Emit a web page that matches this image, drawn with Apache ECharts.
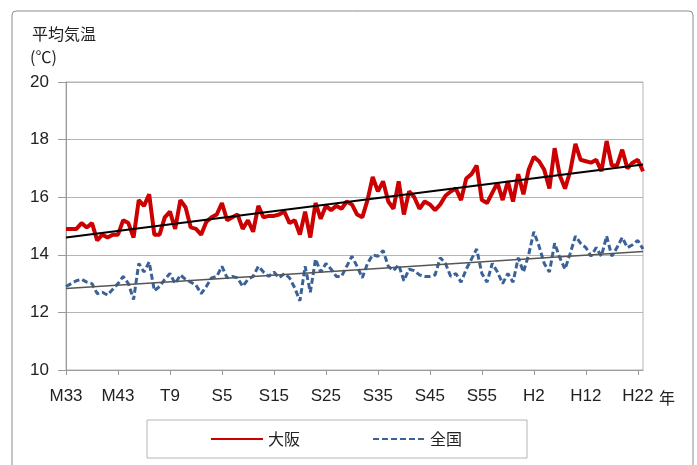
<!DOCTYPE html>
<html><head><meta charset="utf-8">
<script src="https://cdn.jsdelivr.net/npm/echarts@6/dist/echarts.min.js"></script>
<style>html,body{margin:0;padding:0;background:#fff}#c{width:697px;height:465px}</style>
</head><body><div id="c"></div>
<script>
const startYear = 1900;
const osaka = [14.9,14.9,14.9,15.1,14.95,15.1,14.5,14.7,14.6,14.7,
14.7,15.2,15.1,14.6,15.9,15.7,16.1,14.7,14.7,15.3,
15.5,14.9,15.9,15.65,14.95,14.9,14.7,15.15,15.3,15.4,
15.8,15.2,15.3,15.4,14.9,15.2,14.8,15.7,15.3,15.35,
15.35,15.4,15.5,15.1,15.2,14.7,15.5,14.6,15.8,15.25,
15.7,15.55,15.7,15.6,15.85,15.75,15.4,15.3,15.9,16.7,
16.2,16.55,15.85,15.6,16.55,15.4,16.2,16.0,15.6,15.85,
15.75,15.55,15.75,16.05,16.2,16.3,15.9,16.65,16.8,17.1,
15.9,15.8,16.15,16.5,15.9,16.55,15.85,16.8,16.1,16.95,
17.4,17.25,16.95,16.3,17.7,16.75,16.3,16.9,17.85,17.3,
17.25,17.2,17.3,16.9,17.95,17.1,17.1,17.65,17.0,17.2,
17.3,16.9];
const zenkoku = [12.9,13.0,13.1,13.15,13.05,13.0,12.65,12.7,12.6,12.8,
13.0,13.25,13.0,12.45,13.7,13.4,13.75,12.75,12.9,13.15,
13.35,13.0,13.3,13.15,13.05,12.95,12.65,12.9,13.2,13.25,
13.6,13.2,13.25,13.2,12.9,13.15,13.25,13.6,13.4,13.25,
13.4,13.2,13.35,13.2,12.85,12.4,13.6,12.7,13.85,13.4,
13.7,13.5,13.25,13.25,13.6,13.95,13.6,13.2,13.7,14.0,
13.95,14.15,13.6,13.45,13.65,13.1,13.5,13.45,13.3,13.25,
13.25,13.3,13.9,13.7,13.25,13.35,13.05,13.5,13.85,14.2,
13.35,13.05,13.7,13.4,13.0,13.35,13.05,13.9,13.4,14.0,
14.8,14.3,13.7,13.4,14.4,13.9,13.5,14.05,14.65,14.4,
14.25,13.95,14.25,13.95,14.65,13.95,14.25,14.6,14.25,14.35,
14.5,14.2];
const tickYears = [1900,1910,1920,1930,1940,1950,1960,1970,1980,1990,2000,2010];
const tickLabels = ['M33','M43','T9','S5','S15','S25','S35','S45','S55','H2','H12','H22'];
const seriesNames = ['大阪','全国'];

const years = osaka.map((_, i) => startYear + i);
const pairs = arr => arr.map((v, i) => [years[i], v]);
function trend(arr) {
  const n = arr.length;
  let sx=0, sy=0, sxx=0, sxy=0;
  arr.forEach((v,i)=>{const x=years[i]; sx+=x; sy+=v; sxx+=x*x; sxy+=x*v;});
  const b = (n*sxy - sx*sy)/(n*sxx - sx*sx);
  const a = (sy - b*sx)/n;
  const x0 = years[0], x1 = years[n-1];
  return [[x0, a+b*x0],[x1, a+b*x1]];
}
const labelMap = {};
tickYears.forEach((y,i)=>labelMap[y]=tickLabels[i]);

const font = '"Liberation Sans Narrow","Liberation Sans",sans-serif';
const jp = '"Noto Sans CJK JP",sans-serif';
const chart = echarts.init(document.getElementById('c'), null, {renderer:'canvas'});
chart.setOption({
  animation: false,
  backgroundColor: '#fff',
  grid: {left: 66, right: 54, top: 82, bottom: 95, show: true, borderColor: '#b4b4b4', borderWidth: 1},
  xAxis: {
    type: 'value', min: startYear, max: years[years.length-1], interval: 10,
    axisLine: {show: true, lineStyle: {color: '#9a9a9a', width: 1}},
    axisTick: {show: true, length: 5, lineStyle: {color: '#9a9a9a'}},
    splitLine: {show: false},
    axisLabel: {formatter: v => labelMap[v] || '', color: '#222', fontSize: 17, fontFamily: font, margin: 18, showMaxLabel: false}
  },
  yAxis: {
    type: 'value', min: 10, max: 20, interval: 2,
    axisLine: {show: true, lineStyle: {color: '#9a9a9a', width: 1}},
    axisTick: {show: true, length: 8, lineStyle: {color: '#9a9a9a'}},
    splitLine: {show: true, lineStyle: {color: '#b4b4b4', width: 1}},
    axisLabel: {color: '#222', fontSize: 17, fontFamily: font, margin: 17}
  },
  legend: {
    data: seriesNames, left: 147, top: 420,
    padding: [11, 65, 11, 63], itemGap: 72, itemWidth: 52, itemHeight: 16,
    borderColor: '#b4b4b4', borderWidth: 1,
    itemStyle: {opacity: 0},
    textStyle: {fontFamily: jp, fontSize: 16, color: '#222'}
  },
  graphic: [
    {type: 'rect', shape: {x: 12, y: 11, width: 681, height: 470, r: 4}, style: {fill: 'none', stroke: '#8c8c8c', lineWidth: 1}, silent: true, z: -1},
    {type: 'text', left: 32, top: 26, style: {text: '平均気温', font: '16px "Noto Sans CJK JP"', fill: '#222'}},
    {type: 'text', left: 30, top: 49, style: {text: '(℃)', font: '16px "Noto Sans CJK JP"', fill: '#222'}},
    {type: 'text', left: 659, top: 390, style: {text: '年', font: '16px "Noto Sans CJK JP"', fill: '#222'}}
  ],
  series: [
    {name: seriesNames[0], type: 'line', data: pairs(osaka), symbol: 'none', lineStyle: {color: '#cc0000', width: 4}, itemStyle: {color: '#cc0000'}, z: 2},
    {name: seriesNames[1], type: 'line', data: pairs(zenkoku), symbol: 'none', lineStyle: {color: '#3a6298', width: 3, type: [6, 3]}, itemStyle: {color: '#3a6298'}, z: 2},
    {name: 't1', type: 'line', data: trend(osaka), symbol: 'none', lineStyle: {color: '#000', width: 2}, z: 3, silent: true},
    {name: 't2', type: 'line', data: trend(zenkoku), symbol: 'none', lineStyle: {color: '#555', width: 1.5}, z: 3, silent: true}
  ]
});
</script></body></html>
